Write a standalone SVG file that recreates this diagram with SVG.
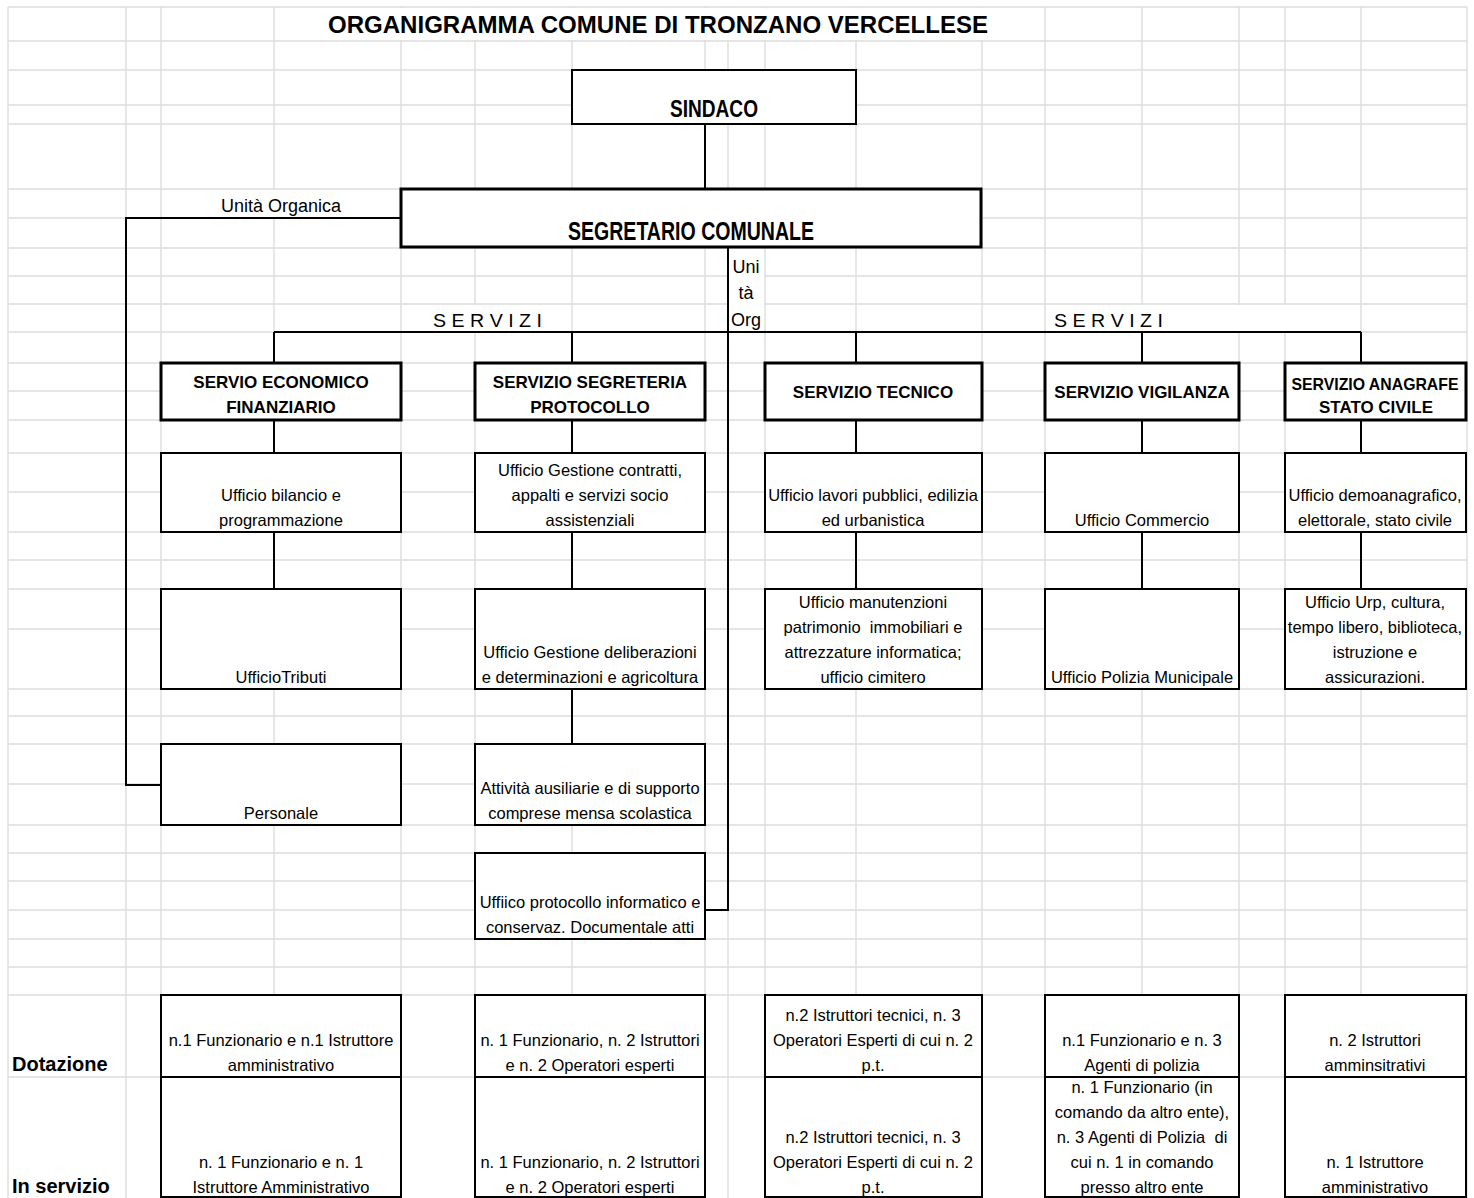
<svg xmlns="http://www.w3.org/2000/svg" width="1474" height="1198" viewBox="0 0 1474 1198">
<style>
.grid line{stroke:#dddddd;stroke-width:1.4}
.mask{fill:#fff}
.box{fill:#fff;stroke:#000;stroke-width:2}
.thick{stroke-width:3}
.conn{fill:none;stroke:#000;stroke-width:2}
text{font-family:"Liberation Sans",Arial,sans-serif;fill:#000}
.t{font-size:16.5px;text-anchor:middle}
.h{font-size:17px;font-weight:bold;text-anchor:middle}
.lbl{font-size:18px}
.side{font-size:20px;font-weight:bold}
</style>
<rect width="1474" height="1198" fill="#fff"/>
<g class="grid" id="grid">
<line x1="8" y1="7" x2="8" y2="1198"/><line x1="126" y1="7" x2="126" y2="1198"/><line x1="161" y1="7" x2="161" y2="1198"/><line x1="274" y1="7" x2="274" y2="1198"/><line x1="401" y1="7" x2="401" y2="1198"/><line x1="475" y1="7" x2="475" y2="1198"/><line x1="572" y1="7" x2="572" y2="1198"/><line x1="705" y1="7" x2="705" y2="1198"/><line x1="728" y1="7" x2="728" y2="1198"/><line x1="765" y1="7" x2="765" y2="1198"/><line x1="856" y1="7" x2="856" y2="1198"/><line x1="982" y1="7" x2="982" y2="1198"/><line x1="1045" y1="7" x2="1045" y2="1198"/><line x1="1142" y1="7" x2="1142" y2="1198"/><line x1="1239" y1="7" x2="1239" y2="1198"/><line x1="1285" y1="7" x2="1285" y2="1198"/><line x1="1361" y1="7" x2="1361" y2="1198"/><line x1="1467" y1="7" x2="1467" y2="1198"/>
<line x1="8" y1="7" x2="1467" y2="7"/><line x1="8" y1="41" x2="1467" y2="41"/><line x1="8" y1="70" x2="1467" y2="70"/><line x1="8" y1="105" x2="1467" y2="105"/><line x1="8" y1="124" x2="1467" y2="124"/><line x1="8" y1="189" x2="1467" y2="189"/><line x1="8" y1="218" x2="1467" y2="218"/><line x1="8" y1="248" x2="1467" y2="248"/><line x1="8" y1="276" x2="1467" y2="276"/><line x1="8" y1="304" x2="1467" y2="304"/><line x1="8" y1="332" x2="1467" y2="332"/><line x1="8" y1="363" x2="1467" y2="363"/><line x1="8" y1="391" x2="1467" y2="391"/><line x1="8" y1="420" x2="1467" y2="420"/><line x1="8" y1="453" x2="1467" y2="453"/><line x1="8" y1="492" x2="1467" y2="492"/><line x1="8" y1="532" x2="1467" y2="532"/><line x1="8" y1="560" x2="1467" y2="560"/><line x1="8" y1="589" x2="1467" y2="589"/><line x1="8" y1="629" x2="1467" y2="629"/><line x1="8" y1="689" x2="1467" y2="689"/><line x1="8" y1="716" x2="1467" y2="716"/><line x1="8" y1="744" x2="1467" y2="744"/><line x1="8" y1="784" x2="1467" y2="784"/><line x1="8" y1="825" x2="1467" y2="825"/><line x1="8" y1="853" x2="1467" y2="853"/><line x1="8" y1="881" x2="1467" y2="881"/><line x1="8" y1="910" x2="1467" y2="910"/><line x1="8" y1="939" x2="1467" y2="939"/><line x1="8" y1="967" x2="1467" y2="967"/><line x1="8" y1="995" x2="1467" y2="995"/><line x1="8" y1="1077" x2="1467" y2="1077"/>
</g>
<g id="masks">
<rect class="mask" x="275" y="8" width="769" height="32"/>
<rect class="mask" x="162" y="190" width="238" height="27"/>
<rect class="mask" x="402" y="305" width="169" height="26"/>
<rect class="mask" x="1046" y="305" width="314" height="26"/>
<rect class="mask" x="729" y="249" width="35" height="82"/>
</g>
<text id="title" x="658" y="33" font-size="24" font-weight="bold" text-anchor="middle" textLength="660" lengthAdjust="spacingAndGlyphs">ORGANIGRAMMA COMUNE DI TRONZANO VERCELLESE</text>
<g id="connectors">
<path class="conn" d="M705 124V189M401 218H126V785H161M728 247V910H705M274 332H1361M274 332V363M572 332V363M856 332V363M1142 332V363M1361 332V363M274 420V453M572 420V453M856 420V453M1142 420V453M1361 420V453M274 532V589M572 532V589M856 532V589M1142 532V589M1361 532V589M572 689V744"/>
</g>
<g id="labels">
<text class="lbl" x="281" y="212" text-anchor="middle">Unità Organica</text>
<text class="lbl" x="433" y="327" font-size="19.5" textLength="109" lengthAdjust="spacingAndGlyphs">S E R V I Z I</text>
<text class="lbl" x="1054" y="327" font-size="19.5" textLength="109" lengthAdjust="spacingAndGlyphs">S E R V I Z I</text>
<text class="lbl" x="746" y="273" text-anchor="middle">Uni</text>
<text class="lbl" x="746" y="299" text-anchor="middle">tà</text>
<text class="lbl" x="746" y="326" text-anchor="middle">Org</text>
<text class="side" x="12" y="1071">Dotazione</text>
<text class="side" x="12" y="1193">In servizio</text>
</g>
<g id="sindaco"><rect class="box" x="572" y="70" width="284" height="54"/><text x="714" y="117" font-size="23" font-weight="bold" text-anchor="middle" textLength="88" lengthAdjust="spacingAndGlyphs">SINDACO</text></g>
<g id="segretario"><rect class="box thick" x="401" y="189" width="580" height="58"/><text x="691" y="240" font-size="25" font-weight="bold" text-anchor="middle" textLength="246" lengthAdjust="spacingAndGlyphs">SEGRETARIO COMUNALE</text></g>
<g id="srv-economico"><rect class="box thick" x="161" y="363" width="240" height="57"/><text class="h" x="281" y="388">SERVIO ECONOMICO</text><text class="h" x="281" y="413">FINANZIARIO</text></g>
<g id="srv-segreteria"><rect class="box thick" x="475" y="363" width="230" height="57"/><text class="h" x="590" y="388">SERVIZIO SEGRETERIA</text><text class="h" x="590" y="413">PROTOCOLLO</text></g>
<g id="srv-tecnico"><rect class="box thick" x="765" y="363" width="217" height="57"/><text class="h" x="873" y="398">SERVIZIO TECNICO</text></g>
<g id="srv-vigilanza"><rect class="box thick" x="1045" y="363" width="194" height="57"/><text class="h" x="1142" y="398">SERVIZIO VIGILANZA</text></g>
<g id="srv-anagrafe"><rect class="box thick" x="1285" y="363" width="181" height="57"/><text class="h" x="1375" y="390" font-size="16.5" textLength="167" lengthAdjust="spacingAndGlyphs">SERVIZIO ANAGRAFE</text><text class="h" x="1376" y="413" font-size="16.5" textLength="114" lengthAdjust="spacingAndGlyphs">STATO CIVILE</text></g>
<g id="uff-bilancio"><rect class="box" x="161" y="453" width="240" height="79"/><text class="t" x="281" y="501">Ufficio bilancio e</text><text class="t" x="281" y="526">programmazione</text></g>
<g id="uff-contratti"><rect class="box" x="475" y="453" width="230" height="79"/><text class="t" x="590" y="476">Ufficio Gestione contratti,</text><text class="t" x="590" y="501">appalti e servizi socio</text><text class="t" x="590" y="526">assistenziali</text></g>
<g id="uff-lavori"><rect class="box" x="765" y="453" width="217" height="79"/><text class="t" x="873" y="501">Ufficio lavori pubblici, edilizia</text><text class="t" x="873" y="526">ed urbanistica</text></g>
<g id="uff-commercio"><rect class="box" x="1045" y="453" width="194" height="79"/><text class="t" x="1142" y="526" font-size="18.5">Ufficio Commercio</text></g>
<g id="uff-demo"><rect class="box" x="1285" y="453" width="181" height="79"/><text class="t" x="1375" y="501">Ufficio demoanagrafico,</text><text class="t" x="1375" y="526">elettorale, stato civile</text></g>
<g id="uff-tributi"><rect class="box" x="161" y="589" width="240" height="100"/><text class="t" x="281" y="683">UfficioTributi</text></g>
<g id="uff-delibere"><rect class="box" x="475" y="589" width="230" height="100"/><text class="t" x="590" y="658">Ufficio Gestione deliberazioni</text><text class="t" x="590" y="683">e determinazioni e agricoltura</text></g>
<g id="uff-manutenzioni"><rect class="box" x="765" y="589" width="217" height="100"/><text class="t" x="873" y="608">Ufficio manutenzioni</text><text class="t" x="873" y="633" xml:space="preserve">patrimonio  immobiliari e</text><text class="t" x="873" y="658">attrezzature informatica;</text><text class="t" x="873" y="683">ufficio cimitero</text></g>
<g id="uff-polizia"><rect class="box" x="1045" y="589" width="194" height="100"/><text class="t" x="1142" y="683">Ufficio Polizia Municipale</text></g>
<g id="uff-urp"><rect class="box" x="1285" y="589" width="181" height="100"/><text class="t" x="1375" y="608">Ufficio Urp, cultura,</text><text class="t" x="1375" y="633">tempo libero, biblioteca,</text><text class="t" x="1375" y="658">istruzione e</text><text class="t" x="1375" y="683">assicurazioni.</text></g>
<g id="uff-personale"><rect class="box" x="161" y="744" width="240" height="81"/><text class="t" x="281" y="819">Personale</text></g>
<g id="uff-ausiliarie"><rect class="box" x="475" y="744" width="230" height="81"/><text class="t" x="590" y="794">Attività ausiliarie e di supporto</text><text class="t" x="590" y="819">comprese mensa scolastica</text></g>
<g id="uff-protocollo"><rect class="box" x="475" y="853" width="230" height="86"/><text class="t" x="590" y="908">Uffiico protocollo informatico e</text><text class="t" x="590" y="933">conservaz. Documentale atti</text></g>
<g id="dot-1"><rect class="box" x="161" y="995" width="240" height="82"/><text class="t" x="281" y="1046">n.1 Funzionario e n.1 Istruttore</text><text class="t" x="281" y="1071">amministrativo</text></g>
<g id="srv-1"><rect class="box" x="161" y="1077" width="240" height="120"/><text class="t" x="281" y="1168">n. 1 Funzionario e n. 1</text><text class="t" x="281" y="1193">Istruttore Amministrativo</text></g>
<g id="dot-2"><rect class="box" x="475" y="995" width="230" height="82"/><text class="t" x="590" y="1046">n. 1 Funzionario, n. 2 Istruttori</text><text class="t" x="590" y="1071">e n. 2 Operatori esperti</text></g>
<g id="srv-2"><rect class="box" x="475" y="1077" width="230" height="120"/><text class="t" x="590" y="1168">n. 1 Funzionario, n. 2 Istruttori</text><text class="t" x="590" y="1193">e n. 2 Operatori esperti</text></g>
<g id="dot-3"><rect class="box" x="765" y="995" width="217" height="82"/><text class="t" x="873" y="1021">n.2 Istruttori tecnici, n. 3</text><text class="t" x="873" y="1046">Operatori Esperti di cui n. 2</text><text class="t" x="873" y="1071">p.t.</text></g>
<g id="srv-3"><rect class="box" x="765" y="1077" width="217" height="120"/><text class="t" x="873" y="1143">n.2 Istruttori tecnici, n. 3</text><text class="t" x="873" y="1168">Operatori Esperti di cui n. 2</text><text class="t" x="873" y="1193">p.t.</text></g>
<g id="dot-4"><rect class="box" x="1045" y="995" width="194" height="82"/><text class="t" x="1142" y="1046">n.1 Funzionario e n. 3</text><text class="t" x="1142" y="1071">Agenti di polizia</text></g>
<g id="srv-4"><rect class="box" x="1045" y="1077" width="194" height="120"/><text class="t" x="1142" y="1093">n. 1 Funzionario (in</text><text class="t" x="1142" y="1118">comando da altro ente),</text><text class="t" x="1142" y="1143" xml:space="preserve">n. 3 Agenti di Polizia  di</text><text class="t" x="1142" y="1168">cui n. 1 in comando</text><text class="t" x="1142" y="1193">presso altro ente</text></g>
<g id="dot-5"><rect class="box" x="1285" y="995" width="181" height="82"/><text class="t" x="1375" y="1046">n. 2 Istruttori</text><text class="t" x="1375" y="1071">amminsitrativi</text></g>
<g id="srv-5"><rect class="box" x="1285" y="1077" width="181" height="120"/><text class="t" x="1375" y="1168">n. 1 Istruttore</text><text class="t" x="1375" y="1193">amministrativo</text></g>
</svg>
